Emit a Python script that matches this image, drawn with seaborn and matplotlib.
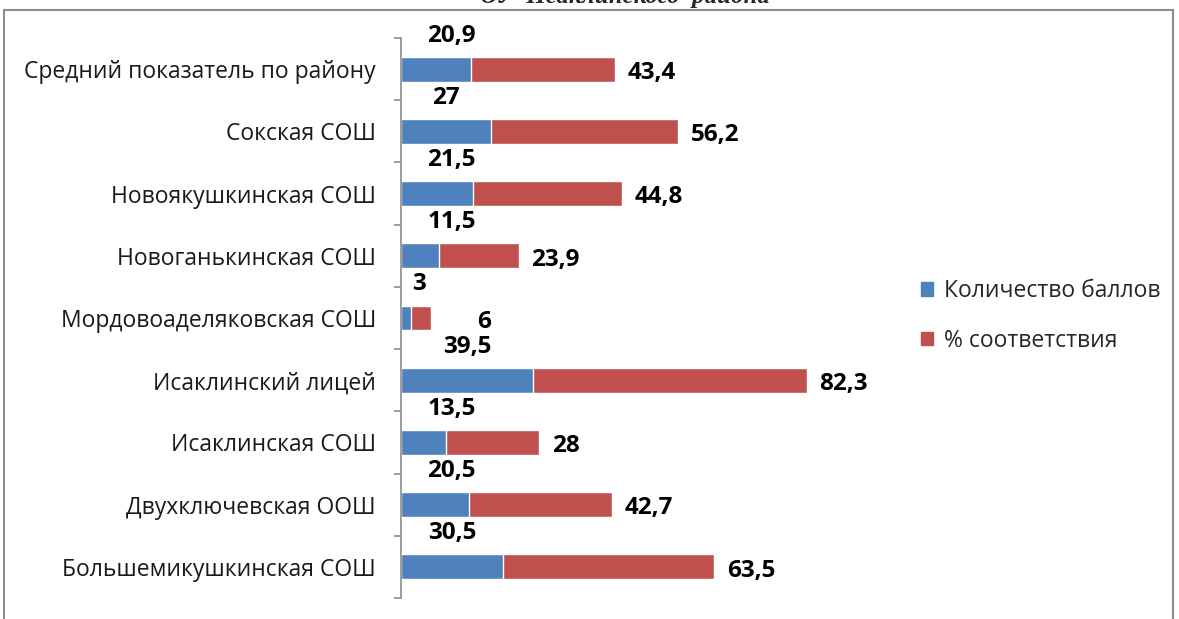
import matplotlib
matplotlib.use("Agg")
import matplotlib.pyplot as plt
import seaborn as sns
from matplotlib.patches import Patch, Rectangle

# Data (top to bottom as in the chart)
schools = [
    "Средний показатель по району",
    "Сокская СОШ",
    "Новоякушкинская СОШ",
    "Новоганькинская СОШ",
    "Мордовоаделяковская СОШ",
    "Исаклинский лицей",
    "Исаклинская СОШ",
    "Двухключевская ООШ",
    "Большемикушкинская СОШ",
]
points = [20.9, 27, 21.5, 11.5, 3, 39.5, 13.5, 20.5, 30.5]
percent = [43.4, 56.2, 44.8, 23.9, 6, 82.3, 28, 42.7, 63.5]
series_names = ["Количество баллов", "% соответствия"]

BLUE = "#4F81BD"
RED = "#C0504D"


def fmt(v):
    return f"{v:g}".replace(".", ",")


sns.set_style("white")
plt.rcParams["font.family"] = ["Open Sans", "DejaVu Sans"]

fig = plt.figure(figsize=(11.79, 6.19), dpi=100)
ax = fig.add_axes([401 / 1179, 21 / 619, 500 / 1179, 560 / 619])

# stacked bars: red total drawn first, blue part over it
totals = [p + q for p, q in zip(points, percent)]
sns.barplot(x=totals, y=schools, color=RED, orient="h", width=0.4,
            saturation=1, ax=ax)
sns.barplot(x=points, y=schools, color=BLUE, orient="h", width=0.4,
            saturation=1, ax=ax)

ax.set_xlim(0, 150)
ax.set_ylim(len(schools) - 0.5, -0.5)
ax.set_xlabel("")
ax.set_ylabel("")
ax.set_xticks([])

for s in ["top", "right", "bottom"]:
    ax.spines[s].set_visible(False)
ax.spines["left"].set_color("#8c8c8c")
ax.spines["left"].set_linewidth(1.2)

ax.set_yticks([i - 0.5 for i in range(len(schools) + 1)], minor=True)
ax.tick_params(axis="y", which="minor", length=5, color="#8c8c8c",
               width=1.2, direction="out", left=True)
ax.tick_params(axis="y", which="major", length=0, pad=18,
               labelsize=16.5, labelcolor="#1a1a1a")

# data labels
for i, (b, r, t) in enumerate(zip(points, percent, totals)):
    lab = fmt(b)
    ax.text(max(b / 2, 2 + len(lab) * 3.3), i - 0.54, lab, ha="center",
            va="center", fontsize=17.5, fontweight="bold", color="black")
    ax.annotate(fmt(r), (max(t, 19), i + 0.06), xytext=(9, 0),
                textcoords="offset points", ha="left", va="center",
                fontsize=17.5, fontweight="bold", color="black")

handles = [Patch(color=BLUE), Patch(color=RED)]
fig.legend(handles, series_names, loc="center left",
           bbox_to_anchor=(900 / 1179, 1 - 316 / 619), frameon=False,
           fontsize=16.5, handlelength=0.55, handleheight=0.55,
           handletextpad=0.45, labelspacing=1.1)

# outer frame of the chart area
fig.patches.append(Rectangle((4 / 1179, -0.05), 1169 / 1179, 1.05 - 10 / 619,
                             transform=fig.transFigure, fill=False,
                             edgecolor="#8c8c8c", linewidth=1.5))

# heading above the frame, cut by the image edge as in the source
fig.text(625 / 1179, 1 - 3 / 619, "ОУ  Исаклинского  района", ha="center",
         va="baseline", fontsize=18, fontweight="bold", fontstyle="italic",
         family="Liberation Serif")

fig.savefig("out.png", dpi=100)
